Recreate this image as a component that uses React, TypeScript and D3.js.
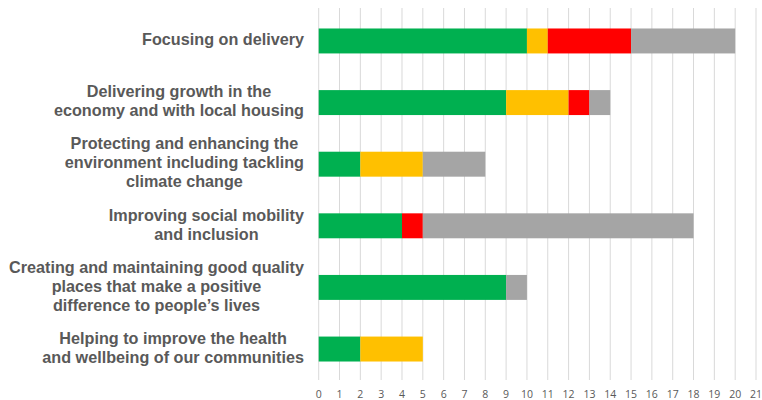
import React, { useEffect, useRef } from 'react';
import * as d3 from 'd3';

const categories: string[][] = [
    ['Focusing on delivery'],
    ['Delivering growth in the', 'economy and with local housing'],
    ['Protecting and enhancing the', 'environment including tackling', 'climate change'],
    ['Improving social mobility', 'and inclusion'],
    ['Creating and maintaining good quality', 'places that make a positive', 'difference to people\u2019s lives'],
    ['Helping to improve the health', 'and wellbeing of our communities'],
];

const seriesNames = ['green', 'amber', 'red', 'grey'];
const greenValues = [10, 9, 2, 4, 9, 2];
const amberValues = [1, 3, 3, 0, 0, 3];
const redValues = [4, 1, 0, 1, 0, 0];
const greyValues = [5, 1, 3, 13, 1, 0];
const colors = ['#00B050', '#FFC000', '#FF0000', '#A5A5A5'];
const xTicks = d3.range(0, 22);

const App: React.FC = () => {
    const svgRef = useRef<SVGSVGElement | null>(null);

    useEffect(() => {
        const svg = d3.select(svgRef.current);
        svg.selectAll('*').remove();

        const left = 318.7;
        const right = 756;
        const top = 10;
        const bottom = 380;

        const x = d3.scaleLinear().domain([0, 21]).range([left, right]);
        const keys = categories.map((_, i) => String(i));
        const y = d3.scaleBand().domain(keys).range([top, bottom]).paddingInner(0.595).paddingOuter(0.3);

        // gridlines
        svg.append('g')
            .selectAll('line')
            .data(xTicks)
            .enter()
            .append('line')
            .attr('x1', d => x(d))
            .attr('x2', d => x(d))
            .attr('y1', top - 2)
            .attr('y2', bottom)
            .attr('stroke', '#d9d9d9')
            .attr('stroke-width', 1);

        // tick labels
        svg.append('g')
            .selectAll('text')
            .data(xTicks)
            .enter()
            .append('text')
            .attr('x', d => x(d))
            .attr('y', 395)
            .attr('text-anchor', 'middle')
            .attr('dominant-baseline', 'middle')
            .style('font-family', '"Open Sans", "Liberation Sans", sans-serif')
            .style('font-size', '10.5px')
            .attr('fill', '#595959')
            .text(d => String(d));

        // stacked bars
        const table = categories.map((_, i) => ({
            key: keys[i],
            green: greenValues[i],
            amber: amberValues[i],
            red: redValues[i],
            grey: greyValues[i],
        }));
        const stacked = d3.stack<any>().keys(seriesNames)(table);

        svg.append('g')
            .selectAll('g')
            .data(stacked)
            .enter()
            .append('g')
            .attr('fill', (_, i) => colors[i])
            .selectAll('rect')
            .data(d => d.filter(s => s[1] > s[0]))
            .enter()
            .append('rect')
            .attr('x', d => x(d[0]))
            .attr('y', d => y(d.data.key)!)
            .attr('width', d => x(d[1]) - x(d[0]))
            .attr('height', y.bandwidth());

        // category labels, each block centred, right edge at labelRight
        const labelRight = 304;
        const lineH = 19;
        categories.forEach((lines, i) => {
            const cy = y(keys[i])! + y.bandwidth() / 2;
            const g = svg.append('g');
            const texts = g.selectAll('text')
                .data(lines)
                .enter()
                .append('text')
                .attr('y', (_, j) => cy + (j - (lines.length - 1) / 2) * lineH)
                .attr('text-anchor', 'middle')
                .attr('dominant-baseline', 'middle')
                .style('font-family', '"Liberation Sans", Arial, sans-serif')
                .style('font-size', '16.2px')
                .style('font-weight', 'bold')
                .attr('fill', '#595959')
                .text(d => d);
            let maxW = 0;
            texts.each(function () {
                maxW = Math.max(maxW, (this as SVGTextElement).getComputedTextLength());
            });
            texts.attr('x', labelRight - maxW / 2);
        });
    }, []);

    return (
        <svg
            ref={svgRef}
            width={762}
            height={400}
            style={{ position: 'absolute', left: 0, top: 0, background: '#fff' }}
        />
    );
};

export default App;
